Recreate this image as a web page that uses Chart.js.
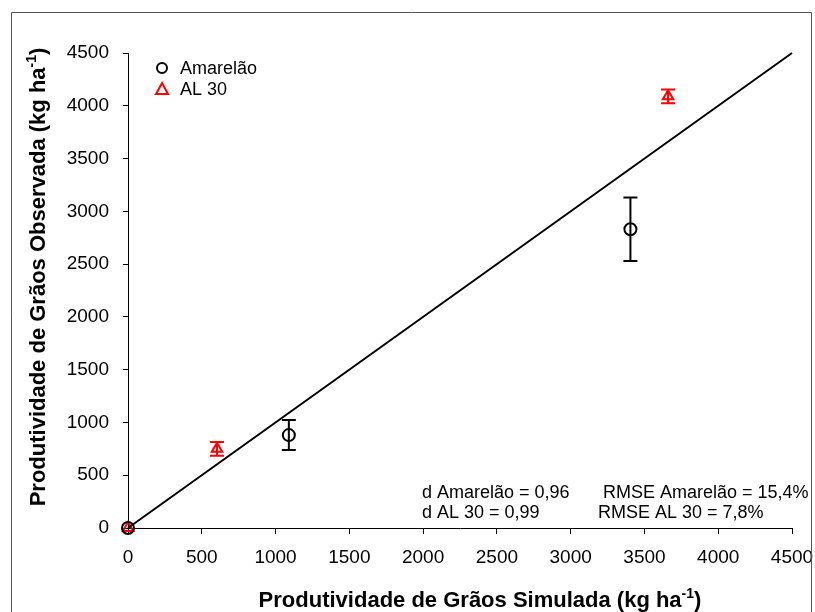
<!DOCTYPE html>
<html>
<head>
<meta charset="utf-8">
<script src="https://cdn.jsdelivr.net/npm/chart.js@4"></script>
<style>
  html, body { margin: 0; padding: 0; background: #fff; }
  #wrap { width: 815px; height: 612px; }
</style>
</head>
<body>
<div id="wrap"><canvas id="c" width="815" height="612"></canvas></div>
<script>
// Amarelão: simulated vs observed grain yield (kg/ha) with error
const amarelaoSim = [0, 1090, 3405];
const amarelaoObs = [0, 880, 2830];
const amarelaoErr = [0, 142, 300];

// AL 30
const al30Sim = [0, 603, 3660];
const al30Obs = [0, 750, 4090];
const al30Err = [0, 65, 65];

// 1:1 line
const lineX = [0, 4500];
const lineY = [0, 4500];

const axisMin = 0;
const axisMax = 4500;
const axisStep = 500;

const font = "'Liberation Sans', Arial, sans-serif";

const toPts = (xs, ys) => xs.map((x, i) => ({ x, y: ys[i] }));

// error bars drawn through the scales
const errorBars = {
  id: "errorBars",
  beforeDatasetsDraw(chart) {
    const { ctx, scales: { x, y } } = chart;
    const sets = [
      { xs: amarelaoSim, ys: amarelaoObs, es: amarelaoErr, color: "#000" },
      { xs: al30Sim, ys: al30Obs, es: al30Err, color: "#ff0000" },
    ];
    ctx.save();
    ctx.lineWidth = 2;
    sets.forEach(({ xs, ys, es, color }) => {
      ctx.strokeStyle = color;
      xs.forEach((v, i) => {
        if (!es[i]) return;
        const px = x.getPixelForValue(v);
        const top = y.getPixelForValue(ys[i] + es[i]);
        const bot = y.getPixelForValue(ys[i] - es[i]);
        ctx.beginPath();
        ctx.moveTo(px, top);
        ctx.lineTo(px, bot);
        ctx.moveTo(px - 7, top);
        ctx.lineTo(px + 7, top);
        ctx.moveTo(px - 7, bot);
        ctx.lineTo(px + 7, bot);
        ctx.stroke();
      });
    });
    ctx.restore();
  },
};

function drawSup(ctx, parts, size, supSize) {
  // parts: [text, isSup]; centred on current origin, alphabetic baseline
  let w = 0;
  parts.forEach(([t, sup]) => {
    ctx.font = `bold ${sup ? supSize : size}px ${font}`;
    w += ctx.measureText(t).width;
  });
  let xPos = -w / 2;
  parts.forEach(([t, sup]) => {
    ctx.font = `bold ${sup ? supSize : size}px ${font}`;
    ctx.fillText(t, xPos, sup ? -size * 0.42 : 0);
    xPos += ctx.measureText(t).width;
  });
}

const decorations = {
  id: "decorations",
  afterDraw(chart) {
    const { ctx } = chart;
    ctx.save();
    // outer frame
    ctx.strokeStyle = "#555";
    ctx.lineWidth = 1;
    ctx.beginPath();
    ctx.moveTo(11.5, 620);
    ctx.lineTo(11.5, 12.5);
    ctx.lineTo(811.5, 12.5);
    ctx.lineTo(811.5, 620);
    ctx.stroke();

    ctx.fillStyle = "#000";
    ctx.textBaseline = "alphabetic";

    // axis titles
    ctx.save();
    ctx.translate(480, 607);
    drawSup(ctx, [["Produtividade de Grãos Simulada (kg ha", false], ["-1", true], [")", false]], 22, 14);
    ctx.restore();

    ctx.save();
    ctx.translate(45, 277);
    ctx.rotate(-Math.PI / 2);
    drawSup(ctx, [["Produtividade de Grãos Observada (kg ha", false], ["-1", true], [")", false]], 22, 14);
    ctx.restore();

    // legend
    ctx.lineWidth = 2;
    ctx.strokeStyle = "#000";
    ctx.beginPath();
    ctx.arc(162, 68, 5, 0, Math.PI * 2);
    ctx.stroke();
    ctx.strokeStyle = "#ff0000";
    ctx.beginPath();
    ctx.moveTo(162, 83);
    ctx.lineTo(168, 94);
    ctx.lineTo(156, 94);
    ctx.closePath();
    ctx.stroke();
    ctx.font = `18px ${font}`;
    ctx.fillText("Amarelão", 180, 74);
    ctx.fillText("AL 30", 180, 95);

    // statistics
    ctx.fillText("d Amarelão = 0,96", 422, 498);
    ctx.fillText("RMSE Amarelão = 15,4%", 603, 498);
    ctx.fillText("d AL 30 = 0,99", 422, 518);
    ctx.fillText("RMSE AL 30 = 7,8%", 598, 518);
    ctx.restore();
  },
};

const tickFont = { family: font, size: 19 };
const plain = (v) => String(v);

new Chart(document.getElementById("c"), {
  type: "scatter",
  data: {
    datasets: [
      {
        label: "1:1",
        type: "line",
        data: toPts(lineX, lineY),
        borderColor: "#000",
        borderWidth: 2,
        pointRadius: 0,
        fill: false,
        clip: false,
      },
      {
        label: "Amarelão",
        data: toPts(amarelaoSim, amarelaoObs),
        pointStyle: "circle",
        pointRadius: 6,
        borderColor: "#000",
        backgroundColor: "rgba(0,0,0,0)",
        borderWidth: 2,
        clip: false,
      },
      {
        label: "AL 30",
        data: toPts(al30Sim, al30Obs),
        pointStyle: "triangle",
        pointRadius: 6,
        borderColor: "#ff0000",
        backgroundColor: "rgba(0,0,0,0)",
        borderWidth: 2,
        clip: false,
      },
    ],
  },
  options: {
    responsive: false,
    animation: false,
    layout: { padding: { left: 48, top: 53, right: 23, bottom: 44 } },
    plugins: { legend: { display: false }, tooltip: { enabled: false } },
    scales: {
      x: {
        type: "linear",
        min: axisMin,
        max: axisMax,
        ticks: { stepSize: axisStep, font: tickFont, color: "#000", padding: 12, maxRotation: 0, callback: plain },
        grid: { drawOnChartArea: false, tickLength: 6, color: "#000" },
        border: { color: "#000", width: 1 },
        afterFit(s) { s.height = 40; s.paddingLeft = 0; s.paddingRight = 0; },
      },
      y: {
        type: "linear",
        min: axisMin,
        max: axisMax,
        ticks: { stepSize: axisStep, font: tickFont, color: "#000", padding: 14, callback: plain },
        grid: { drawOnChartArea: false, tickLength: 5, color: "#000" },
        border: { color: "#000", width: 1 },
        afterFit(s) { s.width = 80; s.paddingTop = 0; s.paddingBottom = 0; },
      },
    },
  },
  plugins: [errorBars, decorations],
});
</script>
</body>
</html>
